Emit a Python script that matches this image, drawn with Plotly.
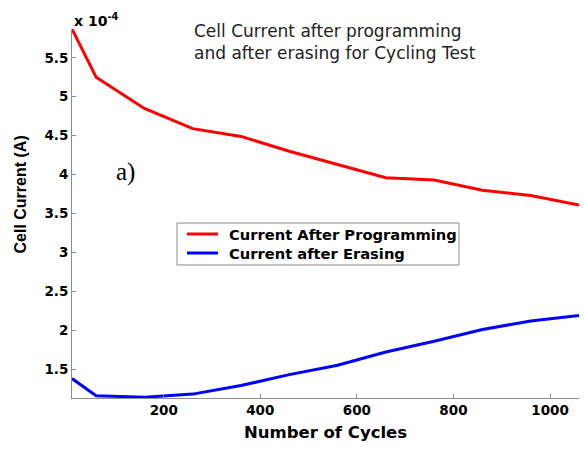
import numpy as np
import plotly.graph_objects as go

# Cycling test: cell current (in units of 1e-4 A) vs number of program/erase cycles
cycles = [10, 60, 160, 260, 360, 460, 560, 660, 760, 860, 960, 1060]
current_after_programming = [5.87, 5.25, 4.85, 4.59, 4.49, 4.30, 4.13, 3.96, 3.93, 3.80, 3.73, 3.61]
current_after_erasing = [1.38, 1.16, 1.14, 1.18, 1.29, 1.43, 1.55, 1.72, 1.86, 2.01, 2.12, 2.19]
series_names = ["Current After Programming", "Current after Erasing"]
series_colors = ["#ff0000", "#0000ff"]

y_ticks = [1.5, 2, 2.5, 3, 3.5, 4, 4.5, 5, 5.5]
y_tick_text = ["1.5", "2", "2.5", "3", "3.5", "4", "4.5", "5", "5.5"]
x_ticks = [200, 400, 600, 800, 1000]

W, H = 584, 450
ML, MR, MT, MB = 72, 5, 29, 52
PW, PH = W - ML - MR, H - MT - MB

SANS = "DejaVu Sans"
AXIS_GREY = "#8c8c8c"


def px(x):
    """Horizontal pixel position -> paper coordinate."""
    return (x - ML) / PW


def py(y):
    """Vertical pixel position (from top) -> paper coordinate."""
    return (H - MB - y) / PH


fig = go.Figure()
for name, values, color in zip(series_names,
                                [current_after_programming, current_after_erasing],
                                series_colors):
    fig.add_trace(go.Scatter(
        x=cycles, y=values, mode="lines", name=name,
        line=dict(color=color, width=3), showlegend=False,
    ))

fig.update_layout(
    width=W, height=H,
    margin=dict(l=ML, r=MR, t=MT, b=MB, pad=0),
    paper_bgcolor="white", plot_bgcolor="white",
    font=dict(family=SANS, color="black"),
    xaxis=dict(
        range=[cycles[0], cycles[-1]],
        tickvals=x_ticks,
        ticks="inside", ticklen=4, tickcolor=AXIS_GREY,
        showline=True, linecolor=AXIS_GREY, linewidth=1,
        showgrid=False, zeroline=False,
        tickfont=dict(family=SANS, size=13.5, color="black", weight="bold"),
        title=dict(text="Number of Cycles",
                   font=dict(family=SANS, size=16.5, color="black", weight="bold"),
                   standoff=9),
    ),
    yaxis=dict(
        range=[min(current_after_erasing) - 0.01, max(current_after_programming)],
        tickvals=y_ticks, ticktext=y_tick_text,
        ticks="inside", ticklen=4, tickcolor=AXIS_GREY,
        showline=True, linecolor=AXIS_GREY, linewidth=1,
        showgrid=False, zeroline=False,
        tickfont=dict(family=SANS, size=13.5, color="black", weight="bold"),
    ),
)

# y axis title, placed a little above the plot's vertical centre
fig.add_annotation(
    xref="paper", yref="paper", x=px(19.5), y=py(195),
    xanchor="center", yanchor="middle", textangle=-90,
    text="<b>Cell Current (A)</b>", showarrow=False,
    font=dict(family="Liberation Sans", size=16, color="black"),
)

# exponent multiplier above the y axis
fig.add_annotation(
    xref="paper", yref="paper", x=0, y=1,
    xanchor="left", yanchor="bottom", yshift=-2,
    text="<b>x 10<sup>-4</sup></b>", showarrow=False,
    font=dict(family=SANS, size=14, color="black"),
)

# two-line chart title, left aligned
fig.add_annotation(
    xref="paper", yref="paper", x=px(192), y=py(19),
    xanchor="left", yanchor="top", align="left",
    text="Cell Current after programming<br>and after erasing for Cycling Test",
    showarrow=False,
    font=dict(family=SANS, size=17, color="#222222"),
)

# panel label
fig.add_annotation(
    xref="paper", yref="paper", x=px(125), y=py(172),
    xanchor="center", yanchor="middle",
    text="a)", showarrow=False,
    font=dict(family="Liberation Serif", size=25, color="black"),
)

# legend box with line samples and labels
LEG_L, LEG_R, LEG_T, LEG_B = 177, 459, 223, 265
row_y = [234, 253]
fig.add_shape(type="rect", xref="paper", yref="paper",
              x0=px(LEG_L), x1=px(LEG_R), y0=py(LEG_B), y1=py(LEG_T),
              line=dict(color=AXIS_GREY, width=1), fillcolor="white", layer="above")
for name, color, ry in zip(series_names, series_colors, row_y):
    fig.add_shape(type="line", xref="paper", yref="paper",
                  x0=px(187), x1=px(218), y0=py(ry), y1=py(ry),
                  line=dict(color=color, width=3), layer="above")
    fig.add_annotation(
        xref="paper", yref="paper", x=px(227), y=py(ry),
        xanchor="left", yanchor="middle",
        text=f"<b>{name}</b>", showarrow=False,
        font=dict(family=SANS, size=14.7, color="black"),
    )

fig.write_html("out.html")
